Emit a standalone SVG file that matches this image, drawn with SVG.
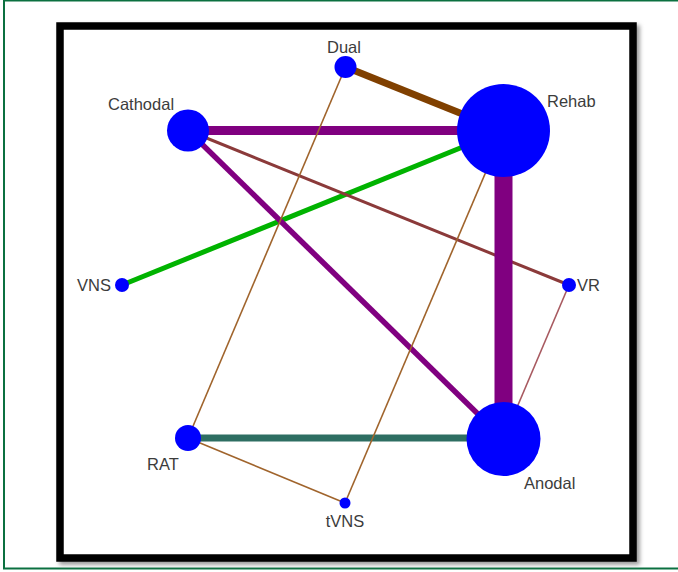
<svg xmlns="http://www.w3.org/2000/svg" width="678" height="572" viewBox="0 0 678 572">
<style>
.lbl{font-family:"Liberation Sans",Arial,sans-serif;font-size:16.5px;fill:#3c3c3c}
.node{fill:#0000ff}
.e{fill:none;stroke-linecap:butt}
.thin{stroke:#a0642c;stroke-width:1.6}
</style>
<defs>
<filter id="sh" x="-5%" y="-5%" width="110%" height="110%">
<feGaussianBlur stdDeviation="2"/>
</filter>
</defs>
<rect x="0" y="0" width="678" height="572" fill="#ffffff"/>
<rect x="4" y="0.5" width="690" height="568" fill="none" stroke="#0b7040" stroke-width="2"/>
<rect x="63" y="29" width="573" height="532" fill="none" stroke="#999" stroke-width="7.5" filter="url(#sh)"/>
<rect x="60" y="26" width="573" height="532" fill="#ffffff" stroke="#000000" stroke-width="7.5"/>
<g id="connectors">
<line class="e" x1="345.5" y1="67" x2="503.5" y2="130.5" stroke="#804000" stroke-width="7"/>
<line class="e" x1="188" y1="130.5" x2="503.5" y2="130.5" stroke="#800080" stroke-width="9"/>
<line class="e" x1="122" y1="285" x2="503.5" y2="130.5" stroke="#00b300" stroke-width="5"/>
<line class="e" x1="188" y1="130.5" x2="569" y2="285" stroke="#8b3a3a" stroke-width="3"/>
<line class="e" x1="188" y1="130.5" x2="503.5" y2="439" stroke="#800080" stroke-width="5.5"/>
<line class="e" x1="503.5" y1="130.5" x2="503.5" y2="439" stroke="#800080" stroke-width="18"/>
<line class="e" x1="188" y1="438" x2="503.5" y2="438" stroke="#2e6e62" stroke-width="7"/>
<line class="e" x1="569" y1="285" x2="503.5" y2="439" stroke="#a85a60" stroke-width="1.6"/>
<line class="e thin" x1="345.5" y1="67" x2="188" y2="438"/>
<line class="e thin" x1="503.5" y1="130.5" x2="345" y2="503"/>
<line class="e thin" x1="188" y1="438" x2="345" y2="503"/>
</g>
<g id="node-dual"><circle class="node" cx="345.5" cy="67" r="11"/><text class="lbl" x="344" y="53" text-anchor="middle">Dual</text></g>
<g id="node-rehab"><circle class="node" cx="503.5" cy="130.5" r="46.5"/><text class="lbl" x="547" y="107">Rehab</text></g>
<g id="node-cathodal"><circle class="node" cx="188" cy="130.5" r="21"/><text class="lbl" x="108" y="110">Cathodal</text></g>
<g id="node-vns"><circle class="node" cx="122" cy="285" r="7"/><text class="lbl" x="77" y="291">VNS</text></g>
<g id="node-vr"><circle class="node" cx="569" cy="285" r="7"/><text class="lbl" x="577" y="291">VR</text></g>
<g id="node-rat"><circle class="node" cx="188" cy="438" r="13"/><text class="lbl" x="147" y="470">RAT</text></g>
<g id="node-anodal"><circle class="node" cx="503.5" cy="439" r="37"/><text class="lbl" x="524" y="489">Anodal</text></g>
<g id="node-tvns"><circle class="node" cx="345" cy="503" r="5.5"/><text class="lbl" x="345" y="527" text-anchor="middle">tVNS</text></g>
</svg>
